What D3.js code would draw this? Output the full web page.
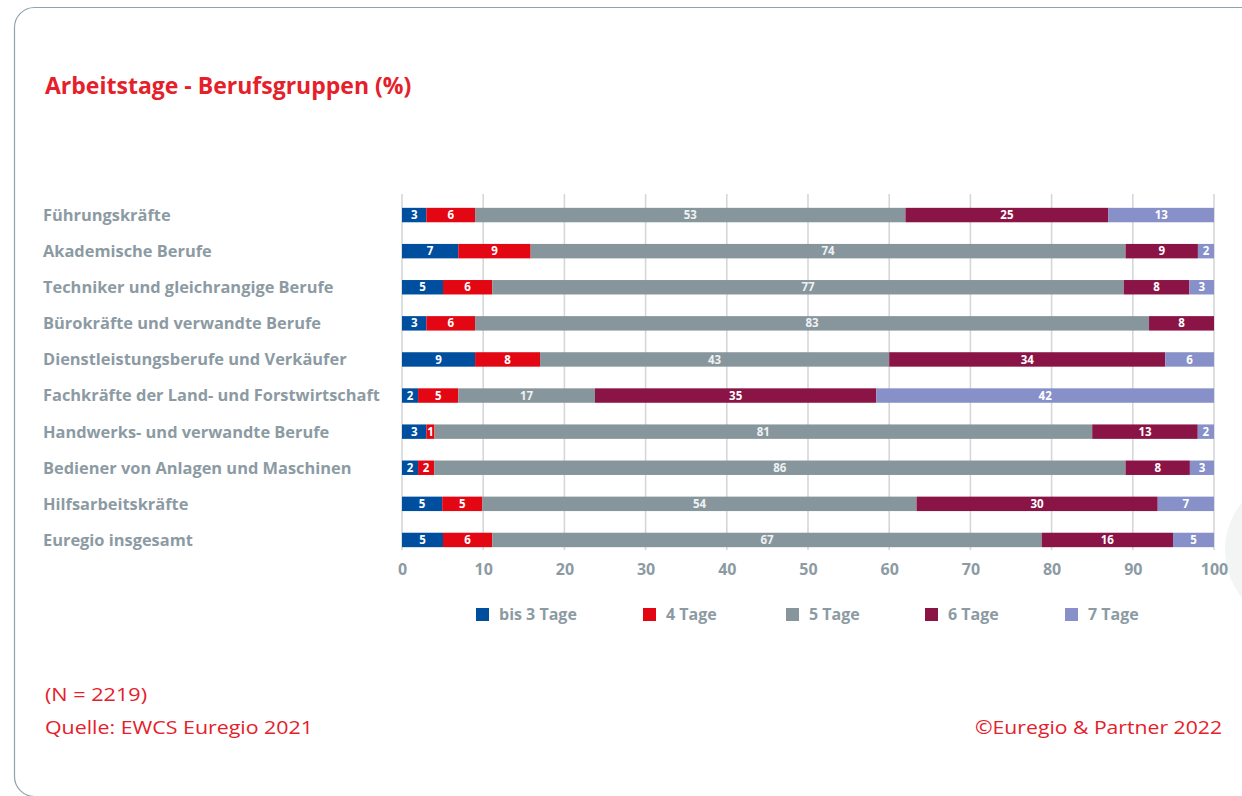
<!DOCTYPE html>
<html>
<head>
<meta charset="utf-8">
<script src="https://cdn.jsdelivr.net/npm/d3@7"></script>
<style>
  body { margin: 0; background: #fff; }
  svg { display: block; font-family: "Open Sans", sans-serif; }
</style>
</head>
<body>
<div id="chart"></div>
<script>
const groups = [
  "Führungskräfte",
  "Akademische Berufe",
  "Techniker und gleichrangige Berufe",
  "Bürokräfte und verwandte Berufe",
  "Dienstleistungsberufe und Verkäufer",
  "Fachkräfte der Land- und Forstwirtschaft",
  "Handwerks- und verwandte Berufe",
  "Bediener von Anlagen und Maschinen",
  "Hilfsarbeitskräfte",
  "Euregio insgesamt"
];
const seriesNames = ["bis 3 Tage", "4 Tage", "5 Tage", "6 Tage", "7 Tage"];
const bis3Tage = [3, 7, 5, 3, 9, 2, 3, 2, 5, 5];
const tage4 = [6, 9, 6, 6, 8, 5, 1, 2, 5, 6];
const tage5 = [53, 74, 77, 83, 43, 17, 81, 86, 54, 67];
const tage6 = [25, 9, 8, 8, 34, 35, 13, 8, 30, 16];
const tage7 = [13, 2, 3, 0, 6, 42, 2, 3, 7, 5];
const xTicks = [0, 10, 20, 30, 40, 50, 60, 70, 80, 90, 100];
const colors = ["#004f9f", "#e30613", "#87969d", "#8b1446", "#8790c8"];

const W = 1242, H = 796;
const svg = d3.select("#chart").append("svg").attr("width", W).attr("height", H);

// frame
svg.append("rect")
  .attr("x", 14.5).attr("y", 7.5)
  .attr("width", 1300).attr("height", 789)
  .attr("rx", 20)
  .attr("fill", "none")
  .attr("stroke", "#8ea3ad")
  .attr("stroke-width", 1.2);

svg.append("circle")
  .attr("cx", 1300).attr("cy", 550).attr("r", 75)
  .attr("fill", "#f3f5f5");

svg.append("text")
  .attr("x", 45).attr("y", 94)
  .style("font-size", "23px").style("font-weight", "bold")
  .style("fill", "#e5202a")
  .text("Arbeitstage - Berufsgruppen (%)");

const rows = groups.map((g, i) => ({
  group: g,
  "bis 3 Tage": bis3Tage[i],
  "4 Tage": tage4[i],
  "5 Tage": tage5[i],
  "6 Tage": tage6[i],
  "7 Tage": tage7[i]
}));

const stacked = d3.stack().keys(seriesNames).offset(d3.stackOffsetExpand)(rows);

const x = d3.scaleLinear().domain([0, 100]).range([402, 1214]);
const y = d3.scaleBand().domain(groups).range([197, 558]).paddingInner(0.6).paddingOuter(0.3);
const color = d3.scaleOrdinal().domain(seriesNames).range(colors);

// grid
svg.append("g")
  .selectAll("line")
  .data(xTicks)
  .join("line")
  .attr("x1", d => x(d)).attr("x2", d => x(d))
  .attr("y1", 194).attr("y2", 550)
  .attr("stroke", "#d5d7d8")
  .attr("stroke-width", 1.6);

// bars
const layer = svg.append("g")
  .selectAll("g")
  .data(stacked)
  .join("g")
  .attr("fill", d => color(d.key));

layer.selectAll("rect")
  .data(d => d.map(v => ({ key: d.key, v })))
  .join("rect")
  .attr("x", d => x(d.v[0] * 100))
  .attr("y", d => y(d.v.data.group))
  .attr("width", d => x(d.v[1] * 100) - x(d.v[0] * 100))
  .attr("height", y.bandwidth());

layer.selectAll("text")
  .data(d => d.map(v => ({ key: d.key, v })).filter(e => e.v.data[e.key] > 0))
  .join("text")
  .attr("x", d => x((d.v[0] + d.v[1]) * 50))
  .attr("y", d => y(d.v.data.group) + y.bandwidth() / 2)
  .attr("dy", "0.36em")
  .attr("text-anchor", "middle")
  .style("font-size", "11.5px").style("font-weight", "bold")
  .style("fill", d => d.key === "5 Tage" ? "#eef1f2" : "#fff")
  .text(d => d.v.data[d.key]);

// category labels
svg.append("g")
  .selectAll("text")
  .data(groups)
  .join("text")
  .attr("x", 43)
  .attr("y", d => y(d) + y.bandwidth() / 2)
  .attr("dy", "0.36em")
  .style("font-size", "16.4px").style("font-weight", "bold")
  .style("fill", "#8c9ba3")
  .text(d => d);

// x axis
const xAxis = svg.append("g")
  .attr("transform", "translate(0,550)")
  .call(d3.axisBottom(x).tickValues(xTicks).tickSize(0).tickPadding(14));
xAxis.select(".domain").remove();
xAxis.selectAll("text")
  .style("font-family", "Open Sans, sans-serif")
  .style("font-size", "16px").style("font-weight", "bold")
  .style("fill", "#8c9ba3");

// legend
const legendX = [476, 643, 786, 925, 1065];
const legend = svg.append("g")
  .selectAll("g")
  .data(seriesNames)
  .join("g")
  .attr("transform", (d, i) => `translate(${legendX[i]},608)`);
legend.append("rect")
  .attr("width", 13).attr("height", 13)
  .attr("fill", d => color(d));
legend.append("text")
  .attr("x", 23).attr("y", 6.5).attr("dy", "0.36em")
  .style("font-size", "16px").style("font-weight", "bold")
  .style("fill", "#8c9ba3")
  .text(d => d);

// footer
svg.append("text")
  .attr("x", 45).attr("y", 701)
  .style("font-size", "19px").style("fill", "#e5202a")
  .attr("textLength", 102).attr("lengthAdjust", "spacingAndGlyphs")
  .text("(N = 2219)");
svg.append("text")
  .attr("x", 45).attr("y", 734)
  .style("font-size", "19px").style("fill", "#e5202a")
  .attr("textLength", 268).attr("lengthAdjust", "spacingAndGlyphs")
  .text("Quelle: EWCS Euregio 2021");
svg.append("text")
  .attr("x", 1222).attr("y", 734)
  .attr("text-anchor", "end")
  .style("font-size", "19px").style("fill", "#e5202a")
  .attr("textLength", 247).attr("lengthAdjust", "spacingAndGlyphs")
  .text("©Euregio & Partner 2022");
</script>
</body>
</html>
